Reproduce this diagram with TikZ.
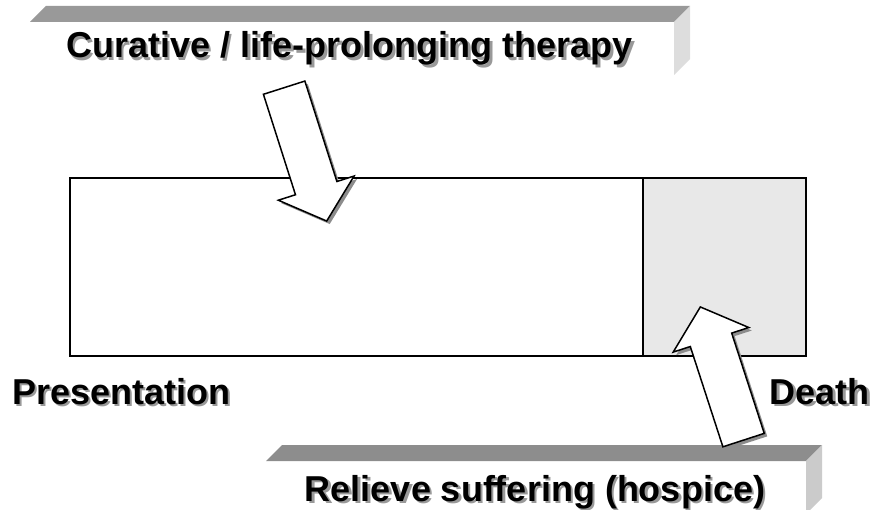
\documentclass[tikz,border=0pt]{standalone}
\usepackage{fontspec}
\setmainfont{Liberation Sans}
\usetikzlibrary{calc}
\usetikzlibrary{positioning}
\usetikzlibrary{shapes.arrows}
\usetikzlibrary{shadows}

\definecolor{bartop}{HTML}{999999}
\definecolor{barside}{HTML}{DDDDDD}
\definecolor{endfill}{HTML}{E8E8E8}

\newcommand{\shadowed}[1]{\makebox[0pt][l]{\hspace{2.5pt}\raisebox{-2.5pt}{\color{black!40}#1}}#1}

\tikzset{
    bigtext/.style={font=\fontsize{36}{40}\selectfont\bfseries, inner sep=0pt},
    bigarrow/.style={single arrow, draw, fill=white, line width=1.5pt,
        minimum height=140pt, minimum width=0pt, inner xsep=0pt, inner ysep=21pt,
        single arrow head extend=18pt, single arrow tip angle=98,
        drop shadow={shadow xshift=3pt, shadow yshift=-3pt, fill=black!45, opacity=1}},
}

\begin{document}
\begin{tikzpicture}[x=1pt, y=-1pt]
    \useasboundingbox (0,0) rectangle (874,510);

    \coordinate (topbar) at (30,22);
    \coordinate (lowbar) at (266,461);
    \coordinate (life) at (70,178);

    % banners
    \fill[bartop] (topbar) -- ++(644,0) -- ++(16,-16) -- ++(-644,0) -- cycle;
    \fill[barside] (topbar)++(644,0) -- ++(16,-16) -- ++(0,53) -- ++(-16,16) -- cycle;

    \fill[bartop!92!black] (lowbar) -- ++(540,0) -- ++(16,-16) -- ++(-540,0) -- cycle;
    \fill[barside!92!black] (lowbar)++(540,0) -- ++(16,-16) -- ++(0,53) -- ++(-16,16) -- cycle;

    % time line
    \fill[endfill] (life)++(573,0) rectangle ++(163,178);
    \draw[line width=2pt] (life) rectangle ++(736,178);
    \draw[line width=2pt] (life)++(573,0) -- ++(0,178);

    \node[bigtext, anchor=base] (cure) at (349.5,58) {\shadowed{Curative / life-prolonging therapy}};
    \node[bigtext, anchor=base west] (present) at (12,404) {\shadowed{Presentation}};
    \node[bigtext, anchor=base east] (death) at (870,404) {\shadowed{Death}};
    \node[bigtext, anchor=base] (relief) at (535,501) {\shadowed{Relieve suffering (hospice)}};

    \node[bigarrow, rotate=-72.3, anchor=tip] (curearrow) at (327,222) {};
    \node[bigarrow, rotate=108, anchor=tip] (hospicearrow) at (700,306) {};
\end{tikzpicture}
\end{document}
